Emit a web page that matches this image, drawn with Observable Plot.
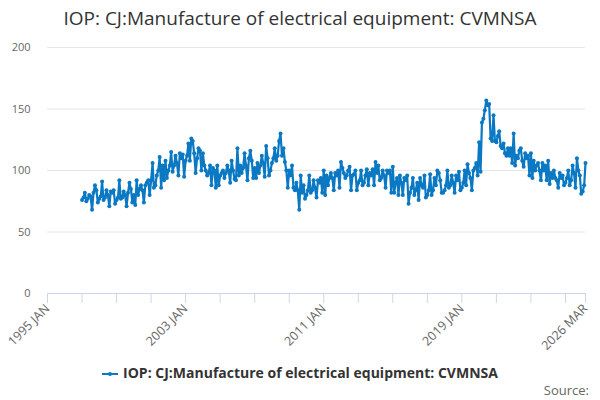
<!DOCTYPE html>
<html>
<head>
<meta charset="utf-8">
<script src="https://cdn.jsdelivr.net/npm/d3@7"></script>
<script src="https://cdn.jsdelivr.net/npm/@observablehq/plot@0.6"></script>
<style>
  body { margin: 0; background: #fff; font-family: "Open Sans", sans-serif; }
  #wrap { width: 600px; height: 400px; position: relative; overflow: hidden; }
  #title { height: 36px; line-height: 36px; text-align: center; font-size: 19px; color: #333; }
  #legend { height: 30px; line-height: 30px; text-align: center; font-size: 14px; font-weight: bold; color: #333; }
  #legend svg { vertical-align: middle; margin-right: 5px; }
  #source { position: absolute; right: 11px; top: 381px; font-size: 13px; color: #666; }
  svg text { font-family: "Open Sans", sans-serif; }
</style>
</head>
<body>
<div id="wrap">
  <div id="title">IOP: CJ:Manufacture of electrical equipment: CVMNSA</div>
  <div id="chart"></div>
  <div id="legend"></div>
  <div id="source">Source:</div>
</div>
<script>
const seriesName = "IOP: CJ:Manufacture of electrical equipment: CVMNSA";
const startYear = 1997;
const monthNames = ["JAN","FEB","MAR","APR","MAY","JUN","JUL","AUG","SEP","OCT","NOV","DEC"];
// monthly values, Jan 1997 .. Mar 2026
const values1997_2004 = [
  76, 78, 82, 75, 77, 80, 79, 68, 82, 88, 84, 74,
  77, 79, 91, 76, 78, 84, 80, 71, 83, 82, 84, 73,
  76, 78, 92, 77, 78, 83, 80, 71, 82, 90, 85, 74,
  80, 72, 92, 80, 85, 88, 84, 74, 88, 90, 92, 80,
  92, 106, 86, 88, 96, 100, 111, 86, 104, 92, 108, 94,
  100, 104, 115, 99, 104, 112, 106, 96, 114, 110, 113, 95,
  108, 112, 122, 108, 126, 124, 114, 98, 110, 118, 116, 100,
  114, 104, 100, 96, 98, 104, 88, 102, 100, 86, 104, 88
];
const values2005_2012 = [
  96, 98, 100, 94, 98, 104, 100, 90, 108, 100, 93, 92,
  118, 96, 104, 98, 102, 114, 104, 92, 110, 116, 108, 94,
  102, 94, 106, 98, 104, 112, 106, 95, 120, 110, 96, 100,
  106, 110, 118, 108, 112, 124, 130, 112, 118, 107, 100, 86,
  100, 96, 104, 86, 84, 90, 84, 68, 96, 82, 88, 77,
  80, 84, 96, 82, 84, 92, 86, 78, 92, 90, 94, 82,
  100, 80, 96, 88, 94, 98, 94, 84, 98, 96, 100, 86,
  107, 102, 98, 94, 96, 100, 103, 84, 96, 97, 100, 84
];
const values2013_2020 = [
  90, 92, 100, 88, 90, 96, 101, 88, 98, 96, 101, 88,
  107, 98, 104, 92, 94, 100, 96, 86, 100, 98, 100, 82,
  103, 82, 90, 94, 80, 96, 90, 80, 94, 92, 96, 73,
  82, 86, 94, 80, 84, 90, 76, 94, 88, 86, 96, 78,
  80, 84, 97, 80, 84, 94, 88, 100, 98, 92, 82, 82,
  84, 88, 100, 86, 88, 96, 90, 82, 96, 92, 99, 84,
  86, 90, 100, 88, 105, 98, 94, 84, 100, 102, 106, 96,
  123, 99, 139, 142, 149, 157, 153, 154, 126, 124, 145, 124
];
const values2021_2026 = [
  123, 128, 132, 120, 118, 122, 114, 112, 118, 112, 118, 106,
  130, 104, 112, 110, 116, 118, 108, 103, 114, 110, 112, 96,
  114, 94, 108, 100, 104, 106, 100, 92, 106, 100, 104, 92,
  108, 89, 98, 94, 100, 94, 92, 86, 98, 94, 96, 88,
  90, 94, 100, 88, 92, 104, 98, 86, 110, 100, 96, 81,
  83, 88, 106
];
const values = [...values1997_2004, ...values2005_2012, ...values2013_2020, ...values2021_2026];
const yTicks = [0, 50, 100, 150, 200];
const xLabelDates = [[1995, 0], [2003, 0], [2011, 0], [2019, 0], [2026, 2]];
const xDomain = [[1995, 0], [2026, 2]];

const color = "#0a78c2";
const ud = ([y, m]) => new Date(Date.UTC(y, m, 1));
const data = values.map((v, i) => ({
  date: ud([startYear + Math.floor(i / 12), i % 12]),
  value: v
}));
const minorTicks = d3.range(1995, 2027, 2).map(y => ud([y, 0])).concat([ud([2026, 2])]);
const labelTicks = xLabelDates.map(ud);
const fmt = d => `${d.getUTCFullYear()} ${monthNames[d.getUTCMonth()]}`;

const chart = Plot.plot({
  width: 600,
  height: 322,
  marginTop: 11,
  marginLeft: 47,
  marginRight: 15,
  marginBottom: 65,
  style: { fontSize: "11px", color: "#666", background: "#fff" },
  x: { type: "utc", domain: xDomain.map(ud) },
  y: { domain: [0, 200] },
  marks: [
    Plot.gridY(yTicks, { stroke: "#e6e6e6", strokeOpacity: 1, x1: ud([1995, 0]), x2: ud([2026, 2]) }),
    Plot.axisY(yTicks, { tickSize: 0, tickPadding: 17, fill: "#666", label: null }),
    Plot.ruleY([0], { stroke: "#ccd6eb" }),
    Plot.axisX(minorTicks, { tickSize: 10, stroke: "#ccd6eb", tickFormat: () => "", label: null }),
    Plot.axisX(labelTicks, { tickSize: 0, tickPadding: 13, tickRotate: -45, tickFormat: fmt, fill: "#666", fontSize: 12.5, label: null }),
    Plot.line(data, { x: "date", y: "value", stroke: color, strokeWidth: 2.2 }),
    Plot.dot(data, { x: "date", y: "value", fill: color, r: 2 })
  ]
});
document.getElementById("chart").appendChild(chart);

const leg = document.getElementById("legend");
leg.innerHTML = `<svg width="16" height="10"><line x1="0" y1="5" x2="16" y2="5" stroke="${color}" stroke-width="2"/><circle cx="8" cy="5" r="2" fill="${color}"/></svg>` + seriesName;
</script>
</body>
</html>
